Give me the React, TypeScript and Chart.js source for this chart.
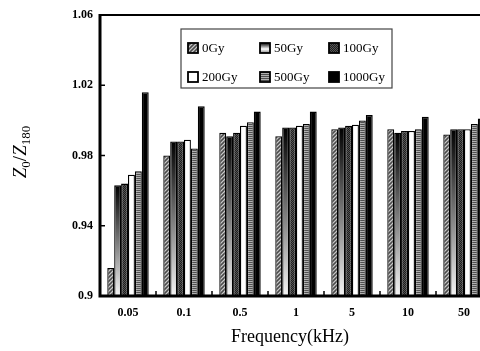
import React, { useEffect, useRef } from "react";
import { Chart, registerables } from "chart.js";

Chart.register(...registerables);

const categories = ["0.05", "0.1", "0.5", "1", "5", "10", "50"];
const seriesNames = ["0Gy", "50Gy", "100Gy", "200Gy", "500Gy", "1000Gy"];
const gy0 = [0.916, 0.98, 0.993, 0.991, 0.995, 0.995, 0.992];
const gy50 = [0.963, 0.988, 0.991, 0.996, 0.996, 0.993, 0.995];
const gy100 = [0.964, 0.988, 0.993, 0.996, 0.997, 0.994, 0.995];
const gy200 = [0.969, 0.989, 0.997, 0.997, 0.9975, 0.994, 0.995];
const gy500 = [0.971, 0.984, 0.999, 0.998, 1.0, 0.995, 0.998];
const gy1000 = [1.016, 1.008, 1.005, 1.005, 1.003, 1.002, 1.001];
const yTickValues = [0.9, 0.94, 0.98, 1.02, 1.06];
const yTickLabels = ["0.9", "0.94", "0.98", "1.02", "1.06"];

function makePattern(size: number, draw: (c: CanvasRenderingContext2D) => void): CanvasPattern | string {
  const cv = document.createElement("canvas");
  cv.width = size;
  cv.height = size;
  const c = cv.getContext("2d");
  if (!c) return "#888";
  draw(c);
  const p = c.createPattern(cv, "repeat");
  return p || "#888";
}

export default function App() {
  const ref = useRef<HTMLCanvasElement | null>(null);

  useEffect(() => {
    const canvas = ref.current;
    if (!canvas) return;

    const hatch = makePattern(4, (c) => {
      c.fillStyle = "#7a7a7a";
      c.fillRect(0, 0, 4, 4);
      for (let i = 0; i < 4; i++) {
        c.fillStyle = "#c8c8c8";
        c.fillRect(i, 3 - i, 1, 1);
        c.fillStyle = "#4a4a4a";
        c.fillRect(i, (5 - i) % 4, 1, 1);
      }
    });
    const dots = makePattern(2, (c) => {
      c.fillStyle = "#1e1e1e";
      c.fillRect(0, 0, 2, 2);
      c.fillStyle = "#555";
      c.fillRect(0, 0, 1, 1);
      c.fillRect(1, 1, 1, 1);
    });
    const stripes = makePattern(2, (c) => {
      c.fillStyle = "#505050";
      c.fillRect(0, 0, 2, 1);
      c.fillStyle = "#b0b0b0";
      c.fillRect(0, 1, 2, 1);
    });

    const gradientFill = (ctx: any) => {
      const chart = ctx.chart;
      const area = chart.chartArea;
      if (!area || ctx.raw === undefined) return "#888";
      const ys = chart.scales.y;
      const top = ys.getPixelForValue(ctx.raw);
      const g = chart.ctx.createLinearGradient(0, top, 0, area.bottom);
      g.addColorStop(0, "#000");
      g.addColorStop(0.15, "#222");
      g.addColorStop(1, "#f5f5f5");
      return g;
    };

    const fills: any[] = [hatch, gradientFill, dots, "#ffffff", stripes, "#000000"];
    const values = [gy0, gy50, gy100, gy200, gy500, gy1000];

    const framePlugin = {
      id: "frame",
      afterDraw(chart: any) {
        const { ctx, chartArea: a } = chart;
        const xs = chart.scales.x;
        const ys = chart.scales.y;
        ctx.save();
        ctx.strokeStyle = "#000";
        // inner ticks
        ctx.lineWidth = 1.5;
        ys.ticks.forEach((t: any) => {
          const y = ys.getPixelForValue(t.value);
          ctx.beginPath();
          ctx.moveTo(a.left, y);
          ctx.lineTo(a.left + 5, y);
          ctx.stroke();
        });
        for (let i = 0; i < categories.length - 1; i++) {
          const x = (xs.getPixelForValue(i) + xs.getPixelForValue(i + 1)) / 2;
          ctx.beginPath();
          ctx.moveTo(x, a.bottom);
          ctx.lineTo(x, a.bottom - 5);
          ctx.stroke();
        }
        // frame
        ctx.lineWidth = 2;
        ctx.beginPath();
        ctx.moveTo(a.left, a.top);
        ctx.lineTo(a.right, a.top);
        ctx.stroke();
        ctx.lineWidth = 3;
        ctx.beginPath();
        ctx.moveTo(a.left, a.top - 1);
        ctx.lineTo(a.left, a.bottom);
        ctx.lineTo(a.right, a.bottom);
        ctx.lineTo(a.right, a.top - 1);
        ctx.stroke();

        // legend
        const lx = a.left + 81;
        const ly = a.top + 14;
        const lw = 211;
        const lh = 59;
        ctx.fillStyle = "#fff";
        ctx.fillRect(lx, ly, lw, lh);
        ctx.lineWidth = 1.2;
        ctx.strokeStyle = "#444";
        ctx.strokeRect(lx, ly, lw, lh);
        const colX = [lx + 7, lx + 79, lx + 148];
        const rowY = [ly + 19, ly + 48];
        ctx.font = "13px 'Liberation Serif', serif";
        ctx.textBaseline = "middle";
        ctx.textAlign = "left";
        seriesNames.forEach((name, i) => {
          const sx = colX[i % 3];
          const sy = rowY[Math.floor(i / 3)];
          let f: any = fills[i];
          if (typeof f === "function") {
            const g = ctx.createLinearGradient(0, sy - 5, 0, sy + 5);
            g.addColorStop(0, "#000");
            g.addColorStop(0.6, "#fff");
            g.addColorStop(1, "#888");
            f = g;
          }
          ctx.fillStyle = f;
          ctx.fillRect(sx, sy - 5, 10, 10);
          ctx.strokeStyle = "#000";
          ctx.lineWidth = 1.8;
          ctx.strokeRect(sx, sy - 5, 10, 10);
          ctx.fillStyle = "#000";
          ctx.fillText(name, sx + 14, sy + 1);
        });

        // axis titles
        ctx.fillStyle = "#000";
        ctx.font = "18px 'Liberation Serif', serif";
        ctx.textAlign = "center";
        ctx.textBaseline = "middle";
        ctx.fillText("Frequency(kHz)", 290, 337);

        ctx.translate(20, 152);
        ctx.rotate(-Math.PI / 2);
        const parts = [
          { t: "Z", f: "italic 19px 'Liberation Serif', serif", dy: 0 },
          { t: "0", f: "13px 'Liberation Serif', serif", dy: 4 },
          { t: "/", f: "19px 'Liberation Serif', serif", dy: 0 },
          { t: "Z", f: "italic 19px 'Liberation Serif', serif", dy: 0 },
          { t: "180", f: "13px 'Liberation Serif', serif", dy: 4 },
        ];
        let total = 0;
        parts.forEach((p) => {
          ctx.font = p.f;
          total += ctx.measureText(p.t).width;
        });
        let cx = -total / 2;
        ctx.textAlign = "left";
        ctx.textBaseline = "alphabetic";
        parts.forEach((p) => {
          ctx.font = p.f;
          ctx.fillText(p.t, cx, 6 + p.dy);
          cx += ctx.measureText(p.t).width;
        });
        ctx.restore();
      },
    };

    const chart = new Chart(canvas, {
      type: "bar",
      data: {
        labels: categories,
        datasets: seriesNames.map((name, i) => ({
          label: name,
          data: values[i],
          backgroundColor: fills[i],
          borderColor: "#000",
          borderWidth: 1.3,
          base: 0.9,
          categoryPercentage: 0.74,
          barPercentage: 1,
        })),
      },
      options: {
        animation: false,
        responsive: false,
        devicePixelRatio: 1,
        layout: { padding: { top: 15, right: 8, left: 0, bottom: 0 } },
        plugins: {
          legend: { display: false },
          tooltip: { enabled: false },
          title: { display: false },
        },
        scales: {
          x: {
            grid: { display: false, drawTicks: false },
            border: { display: false },
            ticks: {
              color: "#000",
              padding: 10,
              font: { family: "'Liberation Serif', serif", size: 12, weight: "bold" },
            },
            afterFit: (s: any) => {
              s.height = 55;
            },
          },
          y: {
            min: 0.9,
            max: 1.06,
            grid: { display: false, drawTicks: false },
            border: { display: false },
            afterBuildTicks: (s: any) => {
              s.ticks = yTickValues.map((v) => ({ value: v }));
            },
            ticks: {
              color: "#000",
              padding: 7,
              font: { family: "'Liberation Serif', serif", size: 12, weight: "bold" },
              callback: (_v: any, i: number) => yTickLabels[i],
            },
            afterFit: (s: any) => {
              s.width = 100;
            },
          },
        },
      },
      plugins: [framePlugin],
    });

    return () => chart.destroy();
  }, []);

  return (
    <div
      style={{
        position: "fixed",
        left: 0,
        top: 0,
        width: 480,
        height: 351,
        overflow: "hidden",
        background: "#fff",
      }}
    >
      <canvas ref={ref} width={500} height={351} style={{ display: "block" }} />
    </div>
  );
}
